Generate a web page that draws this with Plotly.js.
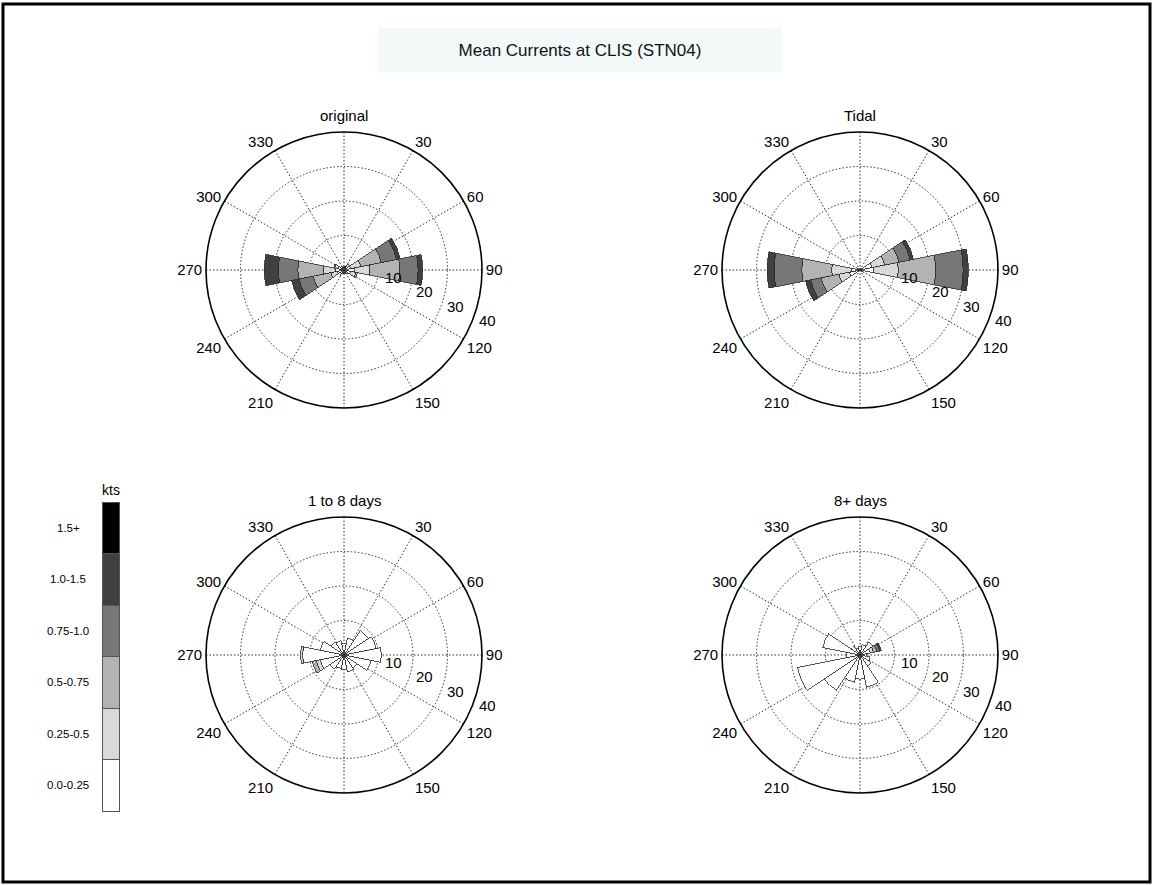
<!DOCTYPE html>
<html>
<head>
<meta charset="utf-8">
<script src="https://cdn.plot.ly/plotly-3.0.1.min.js"></script>
<style>
  html, body { margin: 0; padding: 0; background: #fff; }
  #chart { width: 1154px; height: 885px; }
</style>
</head>
<body>
<div id="chart"></div>
<script>
// Compass directions of the 16 rose sectors (degrees clockwise from north)
const dirs = [0, 22.5, 45, 67.5, 90, 112.5, 135, 157.5, 180, 202.5, 225, 247.5, 270, 292.5, 315, 337.5];

// Current-speed classes (knots) and their fills
const speedBins = ['0.0-0.25', '0.25-0.5', '0.5-0.75', '0.75-1.0', '1.0-1.5', '1.5+'];
const binColors = ['#ffffff', '#d9d9d9', '#b3b3b3', '#777777', '#404040', '#000000'];

// Percent of time per direction, one row per speed class (slowest first)
//                 N    NNE  NE   ENE  E    ESE  SE   SSE  S    SSW  SW   WSW  W    WNW  NW   NNW
const originalRose = [
  [0.8, 1.0, 1.4, 2.0, 3.0, 2.0, 1.0, 0.8, 0.8, 0.8, 1.2, 2.0, 2.5, 1.8, 1.0, 0.6],
  [0.2, 0.2, 0.6, 3.0, 4.5, 1.5, 0.5, 0.2, 0.2, 0.2, 0.6, 1.9, 3.5, 1.0, 0.2, 0.2],
  [0,   0,   0,   6.0, 8.7, 0.5, 0,   0,   0,   0,   0,   5.2, 7.4, 0.2, 0,   0  ],
  [0,   0,   0,   4.5, 5.3, 0,   0,   0,   0,   0,   0,   4.2, 5.7, 0,   0,   0  ],
  [0,   0,   0,   1.1, 1.3, 0,   0,   0,   0,   0,   0,   2.2, 4.0, 0,   0,   0  ],
  [0,   0,   0,   0,   0,   0,   0,   0,   0,   0,   0,   0,   0,   0,   0,   0  ]
];
const tidalRose = [
  [0.3, 0.3, 0.5, 3.5, 3.9, 0.5, 0.3, 0.2, 0.2, 0.3, 0.5, 3.1, 2.4, 0.5, 0.3, 0.2],
  [0,   0,   0.3, 3.8, 7.2, 0.3, 0,   0,   0,   0,   0.3, 3.2, 5.8, 0.3, 0,   0  ],
  [0,   0,   0,   4.2, 10.9,0,   0,   0,   0,   0,   0,   5.2, 8.7, 0,   0,   0  ],
  [0,   0,   0,   3.3, 7.9, 0,   0,   0,   0,   0,   0,   3.1, 8.0, 0,   0,   0  ],
  [0,   0,   0,   1.0, 1.5, 0,   0,   0,   0,   0,   0,   1.5, 2.0, 0,   0,   0  ],
  [0,   0,   0,   0,   0,   0,   0,   0,   0,   0,   0,   0,   0,   0,   0,   0  ]
];
const oneToEightRose = [
  [3.4, 5.0, 8.5, 9.5, 10.8,8.0, 4.5, 5.0, 4.3, 4.0, 5.0, 7.0, 12.0,7.0, 4.5, 4.2],
  [0,   0,   0,   0,   0,   0,   0,   0,   0,   0,   0,   1.2, 0.6, 0,   0,   0  ],
  [0,   0,   0,   0,   0,   0,   0,   0,   0,   0,   0,   1.2, 0,   0,   0,   0  ],
  [0,   0,   0,   0,   0,   0,   0,   0,   0,   0,   0,   0,   0,   0,   0,   0  ],
  [0,   0,   0,   0,   0,   0,   0,   0,   0,   0,   0,   0,   0,   0,   0,   0  ],
  [0,   0,   0,   0,   0,   0,   0,   0,   0,   0,   0,   0,   0,   0,   0,   0  ]
];
const eightPlusRose = [
  [2.5, 3.0, 4.5, 3.0, 2.0, 3.0, 4.0, 9.5, 7.0, 8.0, 12.5,18.5,4.0, 11.0,3.0, 2.0],
  [0,   0,   0,   1.0, 0,   0,   0,   0,   0,   0,   0,   0,   0,   0,   0,   0  ],
  [0,   0,   0,   1.0, 0,   0,   0,   0,   0,   0,   0,   0,   0,   0,   0,   0  ],
  [0,   0,   0,   0.8, 0,   0,   0,   0,   0,   0,   0,   0,   0,   0,   0,   0  ],
  [0,   0,   0,   0.5, 0,   0,   0,   0,   0,   0,   0,   0,   0,   0,   0,   0  ],
  [0,   0,   0,   0,   0,   0,   0,   0,   0,   0,   0,   0,   0,   0,   0,   0  ]
];

// Axis ticks
const ringTicks = [10, 20, 30, 40];
const angleTicks = [0, 30, 60, 90, 120, 150, 180, 210, 240, 270, 300, 330];
const angleLabels = ['', '30', '60', '90', '120', '150', '', '210', '240', '270', '300', '330'];

const panelTitles = ['original', 'Tidal', '1 to 8 days', '8+ days'];
const chartTitle = 'Mean Currents at CLIS (STN04)';
const legendTitle = 'kts';

const FONT = 'Liberation Sans, Arial, Helvetica, sans-serif';
const W = 1154, H = 885;
const px = v => v / W;
const py = v => 1 - v / H;
const RADIUS = 138;           // polar radius in pixels
const RMAX = 40;              // outer ring value
const GRID_DASH = '1.5px,2px';// fine dotted grid
const GRID_COLOR = '#2e2e2e';

function roseTraces(rows, subplot) {
  return rows.map((r, i) => ({
    type: 'barpolar',
    subplot: subplot,
    r: r,
    theta: dirs,
    width: dirs.map(() => 22.5),
    marker: { color: binColors[i], line: { color: '#2b2b2b', width: 0.8 } },
    name: speedBins[i],
    showlegend: false,
    hoverinfo: 'skip'
  }));
}

// Ring value labels, set along a line just outside each ring
function ringLabelAnnotations(cx, cy) {
  const along = 3.8, offset = 4.1, lineAngle = 114.8;
  const s = RADIUS / RMAX;
  return ringTicks.map(v => {
    const rr = Math.hypot(v + along, offset) * s;
    const phi = (lineAngle - Math.atan2(offset, v + along) * 180 / Math.PI) * Math.PI / 180;
    return {
      text: String(v), xref: 'paper', yref: 'paper',
      x: px(cx + rr * Math.sin(phi)), y: py(cy - rr * Math.cos(phi)),
      xanchor: 'center', yanchor: 'middle', showarrow: false,
      font: { family: FONT, size: 15, color: '#000' }
    };
  });
}

function polarLayout(cx, cy) {
  return {
    domain: { x: [px(cx - RADIUS), px(cx + RADIUS)], y: [py(cy + RADIUS), py(cy - RADIUS)] },
    bgcolor: 'rgba(0,0,0,0)',
    barmode: 'stack',
    bargap: 0,
    angularaxis: {
      direction: 'clockwise', rotation: 90,
      tickmode: 'array', tickvals: angleTicks, ticktext: angleLabels,
      showline: true, linecolor: '#000', linewidth: 1.6,
      showgrid: true, gridcolor: GRID_COLOR, griddash: GRID_DASH, gridwidth: 1,
      ticks: '', tickfont: { family: FONT, size: 15, color: '#000' }
    },
    radialaxis: {
      range: [0, RMAX], tickmode: 'array', tickvals: ringTicks,
      showticklabels: false, ticks: '', showline: false,
      showgrid: true, gridcolor: GRID_COLOR, griddash: GRID_DASH, gridwidth: 1
    }
  };
}

const centers = [[344, 270], [860, 270], [344, 655], [860, 655]];
const roses = [originalRose, tidalRose, oneToEightRose, eightPlusRose];
const subplots = ['polar', 'polar2', 'polar3', 'polar4'];

let data = [];
roses.forEach((rows, k) => {
  data = data.concat(roseTraces(rows, subplots[k]));
});

// Speed-class key as a stacked column (axis ranges padded so the outline is not clipped)
speedBins.forEach((b, i) => {
  data.push({
    type: 'bar', x: [0], y: [1], width: 1,
    xaxis: 'x', yaxis: 'y',
    marker: { color: binColors[i], line: { color: '#555', width: 1 } },
    showlegend: false, hoverinfo: 'skip', name: b
  });
});

let annotations = panelTitles.map((t, k) => ({
  text: t, xref: 'paper', yref: 'paper',
  x: px(centers[k][0]), y: py(k < 2 ? 115 : 500),
  xanchor: 'center', yanchor: 'middle', showarrow: false,
  font: { family: FONT, size: 15, color: '#000' }
}));
centers.forEach(c => { annotations = annotations.concat(ringLabelAnnotations(c[0], c[1])); });
speedBins.forEach((b, i) => {
  annotations.push({
    text: b, xref: 'paper', yref: 'y', x: px(68), y: i + 0.5,
    xanchor: 'center', yanchor: 'middle', showarrow: false,
    font: { family: FONT, size: 11.5, color: '#000' }
  });
});
annotations.push({
  text: legendTitle, xref: 'paper', yref: 'paper', x: px(111), y: py(490),
  xanchor: 'center', yanchor: 'middle', showarrow: false,
  font: { family: FONT, size: 14, color: '#000' }
});

// Key column: bar spans x 102..119 px and y 502..811 px; pad by 0.2 units either way
const keyPadX = 0.2, keyPadY = 0.1;
const keyW = 17, keyH = 309;
const layout = {
  width: W, height: H,
  margin: { l: 0, r: 0, t: 0, b: 0 },
  paper_bgcolor: '#fff', plot_bgcolor: 'rgba(0,0,0,0)',
  font: { family: FONT, color: '#000' },
  title: {
    text: chartTitle, x: px(580), y: py(50), xanchor: 'center', yanchor: 'middle',
    xref: 'paper', yref: 'paper',
    font: { family: FONT, size: 17, color: '#111' }
  },
  barmode: 'stack',
  xaxis: {
    domain: [px(102 - keyPadX * keyW), px(119 + keyPadX * keyW)],
    range: [-0.5 - keyPadX, 0.5 + keyPadX], visible: false, fixedrange: true
  },
  yaxis: {
    domain: [py(811 + keyPadY * keyH / 6), py(502 - keyPadY * keyH / 6)],
    range: [-keyPadY, 6 + keyPadY], visible: false, fixedrange: true
  },
  polar: polarLayout(...centers[0]),
  polar2: polarLayout(...centers[1]),
  polar3: polarLayout(...centers[2]),
  polar4: polarLayout(...centers[3]),
  annotations: annotations,
  shapes: [
    { type: 'rect', xref: 'paper', yref: 'paper', layer: 'below',
      x0: px(378), x1: px(782), y0: py(72), y1: py(28),
      fillcolor: '#f3f9f9', line: { width: 0 } },
    { type: 'rect', xref: 'paper', yref: 'paper',
      x0: px(3), x1: px(1150), y0: py(882), y1: py(4),
      line: { color: '#000', width: 3 } }
  ],
  showlegend: false
};

Plotly.newPlot('chart', data, layout, { displayModeBar: false, staticPlot: true });
</script>
</body>
</html>
